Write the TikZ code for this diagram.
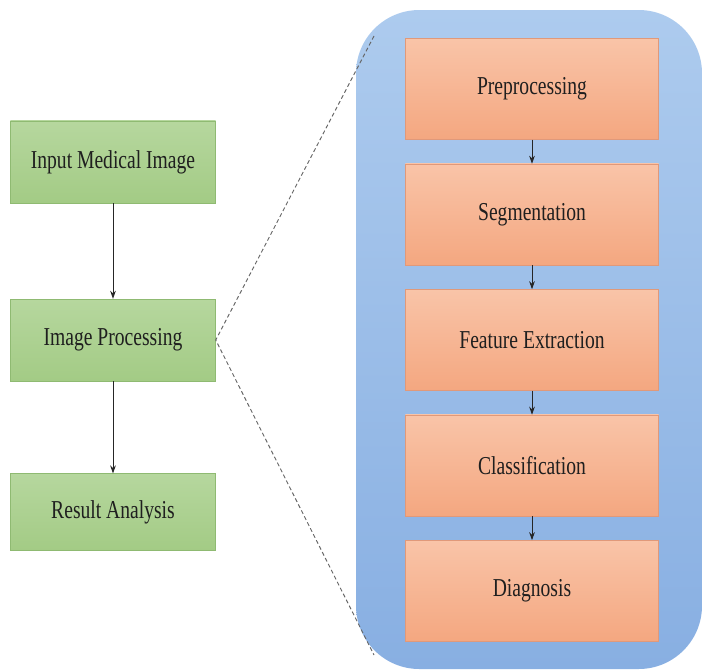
\documentclass[tikz,border=0pt]{standalone}
\usepackage{fontspec}
\newfontfamily\boxfont{Liberation Serif}[FakeStretch=0.76]
\usepackage{tikz}
\usetikzlibrary{positioning,arrows.meta}
\definecolor{gtop}{HTML}{B6D79E}
\definecolor{gbot}{HTML}{A3CB85}
\definecolor{gline}{HTML}{8FBA72}
\definecolor{otop}{HTML}{F9C4A8}
\definecolor{obot}{HTML}{F4A780}
\definecolor{oline}{HTML}{E0997A}
\definecolor{btop}{HTML}{ADCBEE}
\definecolor{bbot}{HTML}{88AFE2}
\begin{document}
\begin{tikzpicture}[x=0.03cm,y=-0.03cm,
  gbox/.style={draw=gline,top color=gtop,bottom color=gbot,minimum width=6.15cm,minimum height=2.46cm,
    text=black!88,font=\boxfont\fontsize{22}{26}\selectfont},
  obox/.style={draw=oline,top color=otop,bottom color=obot,minimum width=7.6cm,minimum height=3.03cm,
    text=black!88,font=\boxfont\fontsize{22}{26}\selectfont},
  arr/.style={-{Stealth[length=2.4mm,width=1.7mm]},black!85,line width=0.8pt}]
  \useasboundingbox (0,0) rectangle (703,671);
  % zoomed panel
  \shade[top color=btop,bottom color=bbot,rounded corners=1.9cm] (356,10) rectangle (702,669);
  % main flow
  \node[gbox] (inp) at (113,162) {Input Medical Image};
  \node[gbox] (ip) at (113,340) {Image Processing};
  \node[gbox,minimum height=2.3cm] (res) at (113,512) {Result Analysis};
  \draw[arr] (inp)--(ip);
  \draw[arr] (ip)--(res);
  % steps inside image processing
  \node[obox] (pre) at (532,89) {Preprocessing};
  \node[obox,below=0.72cm of pre] (seg) {Segmentation};
  \node[obox,below=0.72cm of seg] (feat) {Feature Extraction};
  \node[obox,below=0.72cm of feat] (cls) {Classification};
  \node[obox,below=0.72cm of cls] (diag) {Diagnosis};
  \foreach \a/\b in {pre/seg,seg/feat,feat/cls,cls/diag}{\draw[arr] (\a)--(\b);}
  \coordinate (up) at (374,36);\coordinate (dn) at (374,655);
  \draw[dashed,dash pattern=on 1.2mm off 0.8mm,black!60,line width=0.8pt] (up)--(ip.east)--(dn);
\end{tikzpicture}
\end{document}
